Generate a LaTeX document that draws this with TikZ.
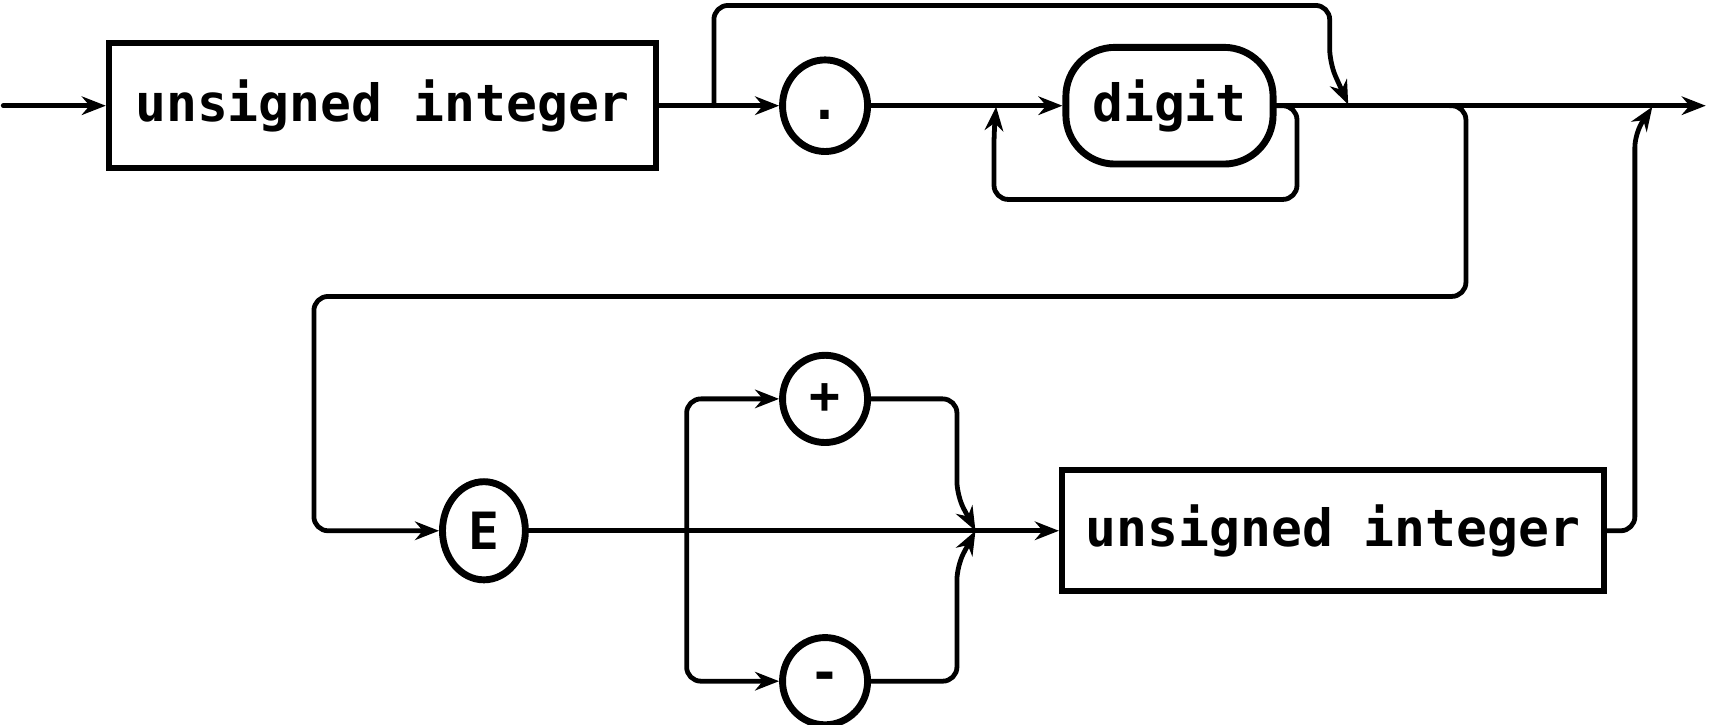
\documentclass[tikz,border=0pt]{standalone}
\usepackage{fontspec}
\setmonofont{DejaVu Sans Mono}
\usetikzlibrary{arrows.meta,shapes.geometric}
\tikzset{
  line/.style={line width=1.25pt, line join=round, line cap=round},
  conn/.style={line, -{Stealth[length=0.22cm,width=0.17cm]}},
  rc/.style={rounded corners=0.13cm},
  boxnode/.style={draw, line width=1.6pt, rectangle, inner sep=0pt, font=\ttfamily\bfseries\fontsize{13.4}{16}\selectfont},
  ovalnode/.style={draw, line width=1.8pt, ellipse, inner sep=0pt, minimum width=0.78cm, minimum height=0.84cm, font=\ttfamily\bfseries\fontsize{13.4}{16}\selectfont},
  roundnode/.style={draw, line width=1.8pt, rectangle, rounded corners=0.45cm, inner sep=0pt, font=\ttfamily\bfseries\fontsize{13.4}{16}\selectfont}
}
\begin{document}
\begin{tikzpicture}[x=0.01cm, y=-0.01cm]
\useasboundingbox (0,0) rectangle (1568,665);
% nodes
\node[boxnode, minimum width=5.02cm, minimum height=1.15cm] (b1) at (351,97) {unsigned integer};
\node[ovalnode] (dot) at (757,97) {\vphantom{x}.};
\node[roundnode, minimum width=1.9cm, minimum height=1.07cm] (dig) at (1073,97) {digit};
\node[ovalnode, minimum width=0.76cm, minimum height=0.9cm] (E) at (444,487) {E};
\node[ovalnode, minimum height=0.8cm] (plus) at (757,366) {+};
\node[ovalnode, minimum height=0.8cm] (minus) at (757,625) {-};
\node[boxnode, minimum width=4.97cm, minimum height=1.11cm] (b2) at (1223,487) {unsigned integer};
% coordinates
\coordinate (start) at (3,97);
\coordinate (j1) at (655,97);
\coordinate (m1) at (1237,96);
\coordinate (l1) at (914,98);
\coordinate (j2) at (1330,97);
\coordinate (stop) at (1565,97);
\coordinate (j3) at (630,487);
\coordinate (m2) at (895,487);
\coordinate (m3) at (1516,98);
% connectors
\draw[conn] (start) -- (b1.west);
\draw[conn] (b1.east) -- (dot.west);
\draw[conn, rc] (j1) -- (655,5) -- (1220,5) -- (1220,58) -- (m1);
\draw[conn] (dot.east) -- (dig.west);
\draw[conn, rc] (dig.east) -- (1190,97) -- (1190,183) -- (912,183) -- (912,120) -- (l1);
\draw[conn] (dig.east) -- (stop);
\draw[conn, rc] (j2) -- (1345,97) -- (1345,272) -- (288,272) -- (288,487) -- (E.west);
\draw[line] (E.east) -- (m2);
\draw[conn] (m2) -- (b2.west);
\draw[conn, rc] (j3) |- (plus.west);
\draw[conn, rc] (j3) |- (minus.west);
\draw[conn, rc] (plus.east) -- (878,366) -- (878,455) -- (m2);
\draw[conn, rc] (minus.east) -- (878,625) -- (878,519) -- (m2);
\draw[conn, rc] (b2.east) -- (1500,487) -- (1500,122) -- (m3);
\end{tikzpicture}
\end{document}
